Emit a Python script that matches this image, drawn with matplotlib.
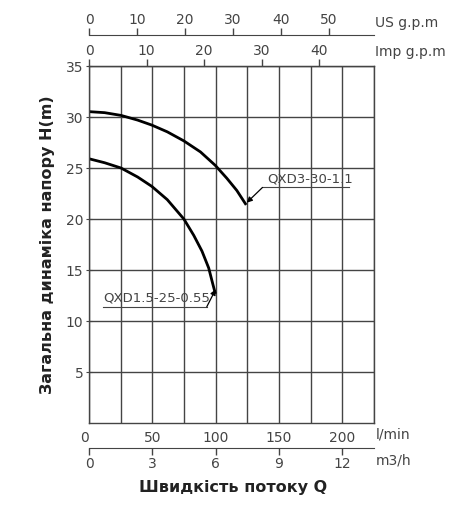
import matplotlib.pyplot as plt
import numpy as np

# flow in l/min, head in m
q_big = [0, 12.3, 25.3, 38.4, 49.6, 61.8, 74.9, 88, 99.7, 108.8, 116.7, 123.5]
h_big = [30.53, 30.43, 30.16, 29.7, 29.21, 28.55, 27.66, 26.58, 25.26, 24.0, 22.8, 21.5]

q_small = [0, 12.3, 25.3, 38.4, 49.6, 61.8, 74.9, 82.7, 89.2, 94.5, 97.8, 99.5]
h_small = [25.91, 25.52, 25.0, 24.12, 23.2, 21.9, 20.0, 18.4, 16.85, 15.2, 13.6, 12.8]

lmin_ticks = [0, 50, 100, 150, 200]
m3h_ticks = [0, 3, 6, 9, 12]
imp_ticks = [0, 10, 20, 30, 40]
us_ticks = [0, 10, 20, 30, 40, 50]
h_ticks = [5, 10, 15, 20, 25, 30, 35]

IMP = 4.54609   # l/min per Imp gpm
US = 3.78541    # l/min per US gpm

txt = '#444444'
gridc = '#444444'
plt.rcParams['font.family'] = ['DejaVu Sans']

fig = plt.figure(figsize=(4.71, 5.12), dpi=100)
ax = fig.add_axes([0.189, 0.1738, 0.605, 0.6972])

ax.set_xlim(0, 225)
ax.set_ylim(0, 35)
ax.set_xticks(np.arange(0, 226, 25), minor=True)
ax.set_xticks(lmin_ticks)
ax.set_yticks(h_ticks)
ax.grid(True, which='both', axis='x', color=gridc, lw=1)
ax.grid(True, axis='y', color=gridc, lw=1)
for s in ax.spines.values():
    s.set_color(gridc)
    s.set_linewidth(1)
ax.tick_params(axis='x', which='both', length=0, pad=6, labelsize=10, colors=txt)
ax.tick_params(axis='y', length=4, direction='inout', pad=2, labelsize=10, colors=txt)
ax.get_xticklabels()[0].set_horizontalalignment('right')

ax.plot(q_big, h_big, color='black', lw=2, solid_joinstyle='round')
ax.plot(q_small, h_small, color='black', lw=2, solid_joinstyle='round')

# labels with leader lines
ax.text(141, 23.3, 'QXD3-30-1.1', fontsize=9.5, color=txt, va='bottom')
ax.plot([137, 205], [23.1, 23.1], color=txt, lw=0.8)
ax.annotate('', xy=(124.5, 21.6), xytext=(137, 23.1),
            arrowprops=dict(arrowstyle='-|>', color='black', lw=0.9,
                            mutation_scale=8, shrinkA=0, shrinkB=0))
ax.text(11, 11.6, 'QXD1.5-25-0.55', fontsize=9.5, color=txt, va='bottom')
ax.plot([11, 93], [11.4, 11.4], color=txt, lw=0.8)
ax.annotate('', xy=(100, 13.1), xytext=(93, 11.4),
            arrowprops=dict(arrowstyle='-|>', color='black', lw=0.9,
                            mutation_scale=8, shrinkA=0, shrinkB=0))

# top axes
imp = ax.secondary_xaxis('top', functions=(lambda x: x / IMP, lambda x: x * IMP))
imp.set_xticks(imp_ticks)
imp.tick_params(length=5, width=1, color=gridc, labelsize=10, labelcolor=txt, pad=1)
imp.spines['top'].set_color(gridc)

us = ax.secondary_xaxis(1.087, functions=(lambda x: x / US, lambda x: x * US))
us.set_xticks(us_ticks)
us.tick_params(length=5, width=1, color=gridc, labelsize=10, labelcolor=txt, pad=1)
us.spines['top'].set_color(gridc)

m3 = ax.secondary_xaxis(-0.069, functions=(lambda x: x * 0.06, lambda x: x / 0.06))
m3.set_xticks(m3h_ticks)
m3.tick_params(length=5, width=1, color=gridc, labelsize=10, labelcolor=txt, pad=2)
m3.spines['bottom'].set_color(gridc)

ax.text(1.005, -0.032, 'l/min', transform=ax.transAxes, fontsize=10, color=txt, va='center')
ax.text(1.005, -0.106, 'm3/h', transform=ax.transAxes, fontsize=10, color=txt, va='center')
ax.text(1.005, 1.04, 'Imp g.p.m', transform=ax.transAxes, fontsize=10, color=txt, va='center')
ax.text(1.005, 1.12, 'US g.p.m', transform=ax.transAxes, fontsize=10, color=txt, va='center')

ax.set_ylabel('Загальна динаміка напору H(m)', fontsize=11.5, fontweight='bold',
              color='#222222', labelpad=8)
fig.text(0.495, 0.048, 'Швидкість потоку Q', ha='center', va='center',
         fontsize=11.5, fontweight='bold', color='#222222')

fig.savefig('out.png', dpi=100)
